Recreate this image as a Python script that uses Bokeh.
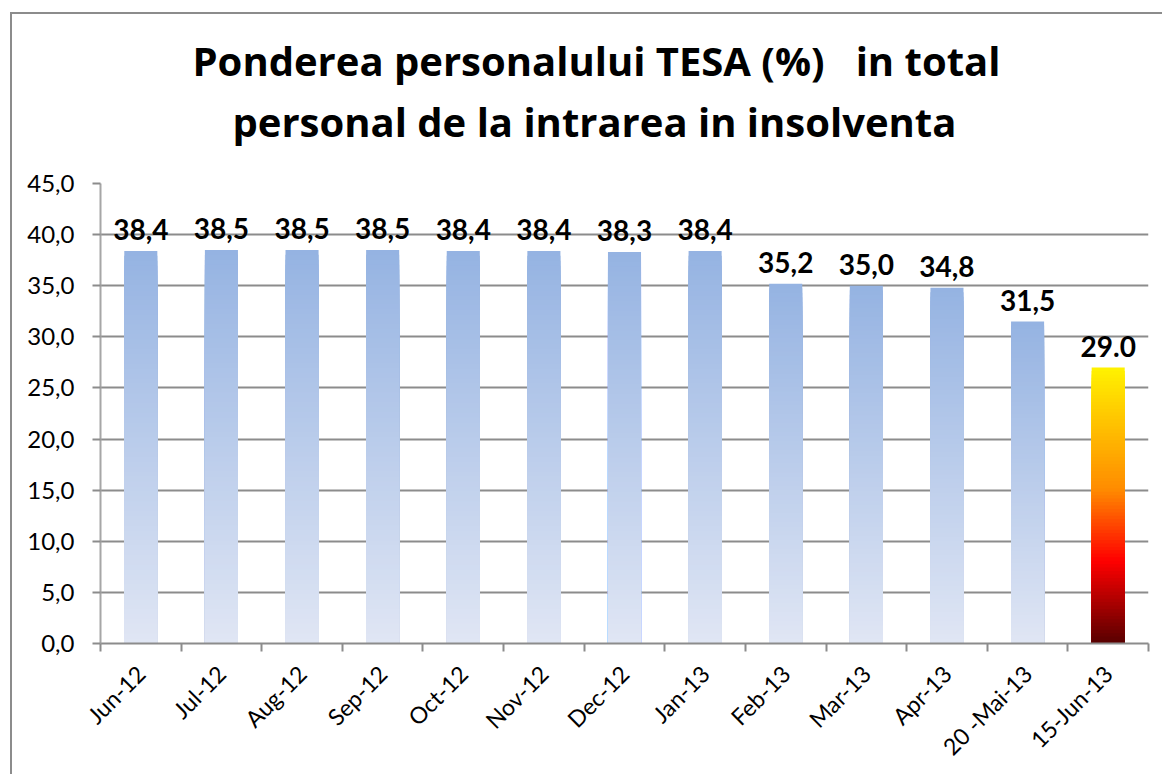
import math
from bokeh.plotting import figure
from bokeh.models import ColumnDataSource, FixedTicker, Title, Range1d
from bokeh.core.properties import value
from bokeh.embed import file_html
from bokeh.resources import INLINE

# ---- data ----
categories = ["Jun-12", "Jul-12", "Aug-12", "Sep-12", "Oct-12", "Nov-12", "Dec-12",
              "Jan-13", "Feb-13", "Mar-13", "Apr-13", "20 -Mai-13", "15-Jun-13"]
values = [38.4, 38.5, 38.5, 38.5, 38.4, 38.4, 38.3, 38.4, 35.2, 35.0, 34.8, 31.5, 27.0]
value_labels = ["38,4", "38,5", "38,5", "38,5", "38,4", "38,4", "38,3", "38,4",
                "35,2", "35,0", "34,8", "31,5", "29.0"]
y_ticks = [0, 5, 10, 15, 20, 25, 30, 35, 40, 45]
title_lines = ["Ponderea personalului TESA (%) \u00a0 in total",
               "personal de la intrarea in insolventa"]

FONT = "Lato"
TITLE_FONT = "Open Sans"
BAR_W = 0.41
N_SLICES = 80

blue_stops = [(0.0, (224, 230, 244)), (1.0, (149, 179, 226))]
fire_stops = [(0.0, (88, 0, 0)), (0.30, (255, 0, 0)), (0.56, (255, 140, 0)),
              (0.80, (255, 195, 0)), (1.0, (255, 242, 0))]


def interp(stops, t):
    for (t0, c0), (t1, c1) in zip(stops[:-1], stops[1:]):
        if t <= t1:
            f = 0 if t1 == t0 else (t - t0) / (t1 - t0)
            return "#%02x%02x%02x" % tuple(int(round(a + (b - a) * f)) for a, b in zip(c0, c1))
    return "#%02x%02x%02x" % stops[-1][1]


W, H = 1152, 762
p = figure(width=W, height=H, output_backend="svg", toolbar_location=None,
           x_range=Range1d(0, len(categories)), y_range=Range1d(0, 45),
           min_border_left=88, min_border_right=16, min_border_top=169, min_border_bottom=133)
p.styles = {"border-left": "2px solid #8c8c8c", "border-top": "2px solid #8c8c8c",
            "margin-left": "10px", "margin-top": "12px"}
p.outline_line_color = None
p.background_fill_color = "white"
p.border_fill_color = "white"

# gradient bars: nested rectangles drawn from tallest (top colour) down to shortest
left, right, bottom, top, color = [], [], [], [], []
for k in range(N_SLICES, 0, -1):
    frac = k / N_SLICES
    for i, v in enumerate(values):
        stops = fire_stops if i == len(values) - 1 else blue_stops
        left.append(i + 0.5 - BAR_W / 2)
        right.append(i + 0.5 + BAR_W / 2)
        bottom.append(0)
        top.append(v * frac)
        color.append(interp(stops, (k - 0.5) / N_SLICES))
src = ColumnDataSource(dict(left=left, right=right, bottom=bottom, top=top, color=color))
p.quad(left="left", right="right", bottom="bottom", top="top", fill_color="color",
       line_color=None, source=src)

# value labels
lsrc = ColumnDataSource(dict(x=[i + 0.5 for i in range(len(values))], y=values, t=value_labels))
p.text(x="x", y="y", text="t", source=lsrc, y_offset=-21, text_align="center",
       text_baseline="alphabetic", text_font=value(FONT), text_font_style="bold",
       text_font_size="28px", text_color="black")

# axes
p.xaxis.ticker = FixedTicker(ticks=[i + 0.5 for i in range(len(categories))],
                             minor_ticks=list(range(len(categories) + 1)))
p.xaxis.major_label_overrides = {i + 0.5: c for i, c in enumerate(categories)}
p.xaxis.major_label_orientation = math.pi / 4
p.xaxis.major_tick_in = 0
p.xaxis.major_tick_out = 0
p.xaxis.minor_tick_in = 0
p.xaxis.minor_tick_out = 8
p.xaxis.minor_tick_line_color = "#8c8c8c"
p.xaxis.minor_tick_line_width = 2
p.xaxis.axis_line_color = "#8c8c8c"
p.xaxis.axis_line_width = 2
p.xaxis.major_label_standoff = 18
p.xaxis.major_label_text_font = FONT
p.xaxis.major_label_text_font_size = "23px"
p.xaxis.major_label_text_color = "black"

p.yaxis.ticker = FixedTicker(ticks=y_ticks, minor_ticks=[])
p.yaxis.major_label_overrides = {t: f"{t:.1f}".replace(".", ",") for t in y_ticks}
p.yaxis.major_tick_in = 0
p.yaxis.major_tick_out = 8
p.yaxis.major_tick_line_color = "#8c8c8c"
p.yaxis.major_tick_line_width = 2
p.yaxis.axis_line_color = "#a6a6a6"
p.yaxis.axis_line_width = 2
p.yaxis.major_label_standoff = 18
p.yaxis.major_label_text_font = FONT
p.yaxis.major_label_text_font_size = "24px"
p.yaxis.major_label_text_color = "black"

p.xgrid.grid_line_color = None
p.ygrid.ticker = FixedTicker(ticks=y_ticks)
p.ygrid.grid_line_color = "#8c8c8c"
p.ygrid.grid_line_width = 2
p.ygrid.level = "underlay"

# title: spacer first (closest to the frame), then bottom line, then top line
p.title = None
p.add_layout(Title(text=" ", text_font_size="1px", standoff=32), "above")
p.add_layout(Title(text=title_lines[1], align="left", offset=132, standoff=0,
                   text_font=TITLE_FONT, text_font_style="bold", text_font_size="40px",
                   text_color="black"), "above")
p.add_layout(Title(text=title_lines[0], align="left", offset=92, standoff=8,
                   text_font=TITLE_FONT, text_font_style="bold", text_font_size="40px",
                   text_color="black"), "above")

open("out.html", "w").write(file_html(p, INLINE))
